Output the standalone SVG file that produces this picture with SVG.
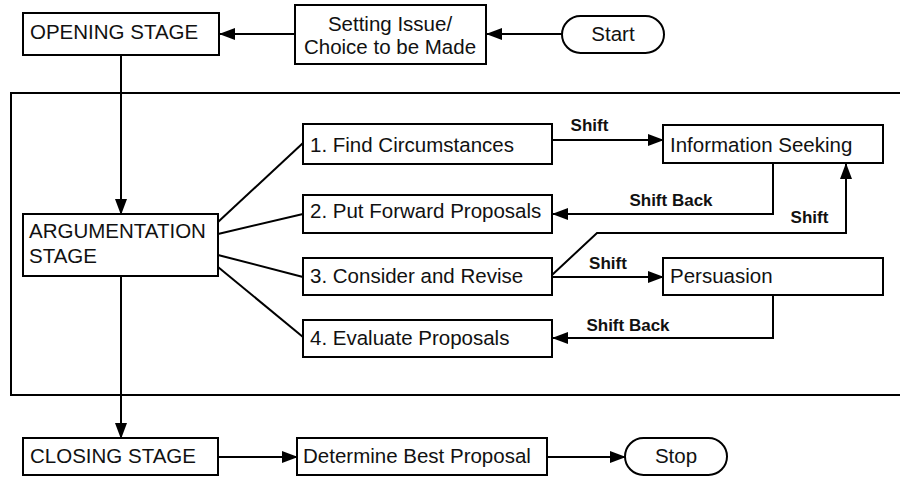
<svg xmlns="http://www.w3.org/2000/svg" width="900" height="478" viewBox="0 0 900 478">
<defs>
<marker id="ah" markerWidth="16" markerHeight="12" refX="15" refY="6" orient="auto" markerUnits="userSpaceOnUse">
<path d="M0,0 L16,6 L0,12 Z" fill="#000"/>
</marker>
<style>
.box{fill:#fff;stroke:#000;stroke-width:2}
.t{font-family:"Liberation Sans",Arial,sans-serif;font-size:20.5px;fill:#111}
.c{text-anchor:middle}
.l{font-family:"Liberation Sans",Arial,sans-serif;font-size:17px;font-weight:bold;fill:#111;text-anchor:middle}
.ln{fill:none;stroke:#000;stroke-width:2}
.ar{fill:none;stroke:#000;stroke-width:2;marker-end:url(#ah)}
</style>
</defs>
<rect x="0" y="0" width="900" height="478" fill="#fff"/>
<rect id="container" x="11" y="93" width="900" height="302" fill="none" stroke="#000" stroke-width="2"/>
<g id="connectors">
<line class="ar" x1="295" y1="34" x2="220" y2="34"/>
<line class="ar" x1="562" y1="34" x2="487" y2="34"/>
<line class="ar" x1="121" y1="55" x2="121" y2="214"/>
<line class="ar" x1="121" y1="276" x2="121" y2="438"/>
<line class="ar" x1="218" y1="457" x2="297" y2="457"/>
<line class="ar" x1="547" y1="457" x2="625" y2="457"/>
<line class="ln" x1="218" y1="222" x2="303" y2="143"/>
<line class="ln" x1="218" y1="234" x2="303" y2="214"/>
<line class="ln" x1="218" y1="255" x2="303" y2="277"/>
<line class="ln" x1="218" y1="267" x2="303" y2="337"/>
<line class="ar" x1="552" y1="140" x2="663" y2="140"/>
<polyline class="ar" points="773,163 773,214 553,214"/>
<polyline class="ar" points="552,275 597,233 846,233 846,164"/>
<line class="ar" x1="552" y1="277" x2="663" y2="277"/>
<polyline class="ar" points="773,295 773,338 553,338"/>
<text class="l" x="589.5" y="130.5">Shift</text>
<text class="l" x="671" y="206">Shift Back</text>
<text class="l" x="809.5" y="222.5">Shift</text>
<text class="l" x="608" y="269">Shift</text>
<text class="l" x="628" y="330.5">Shift Back</text>
</g>
<g id="opening"><rect class="box" x="23" y="13" width="196" height="42"/><text class="t" x="30" y="38.5">OPENING STAGE</text></g>
<g id="setting"><rect class="box" x="295" y="5" width="191" height="59"/><text class="t c" x="390" y="30.7">Setting Issue/</text><text class="t c" x="390" y="54">Choice to be Made</text></g>
<g id="start"><rect class="box" x="562" y="16" width="102" height="37" rx="18.5"/><text class="t c" x="613" y="40.5">Start</text></g>
<g id="argumentation"><rect class="box" x="23" y="214" width="195" height="62"/><text class="t" x="29" y="238.3">ARGUMENTATION</text><text class="t" x="29" y="263.3">STAGE</text></g>
<g id="find"><rect class="box" x="303" y="124" width="249" height="40"/><text class="t" x="310" y="151.5">1. Find Circumstances</text></g>
<g id="put"><rect class="box" x="303" y="195" width="249" height="38"/><text class="t" x="310" y="218.3">2. Put Forward Proposals</text></g>
<g id="consider"><rect class="box" x="303" y="258" width="249" height="37"/><text class="t" x="310" y="282.5">3. Consider and Revise</text></g>
<g id="evaluate"><rect class="box" x="303" y="320" width="249" height="37"/><text class="t" x="310" y="345">4. Evaluate Proposals</text></g>
<g id="info"><rect class="box" x="663" y="125" width="220" height="38"/><text class="t" x="670" y="151.5">Information Seeking</text></g>
<g id="persuasion"><rect class="box" x="663" y="258" width="220" height="37"/><text class="t" x="670" y="283">Persuasion</text></g>
<g id="closing"><rect class="box" x="23" y="438" width="195" height="37"/><text class="t" x="30" y="463">CLOSING STAGE</text></g>
<g id="determine"><rect class="box" x="297" y="438" width="250" height="37"/><text class="t" x="303" y="463">Determine Best Proposal</text></g>
<g id="stop"><rect class="box" x="625" y="438" width="102" height="37" rx="18.5"/><text class="t c" x="676" y="463">Stop</text></g>
</svg>
